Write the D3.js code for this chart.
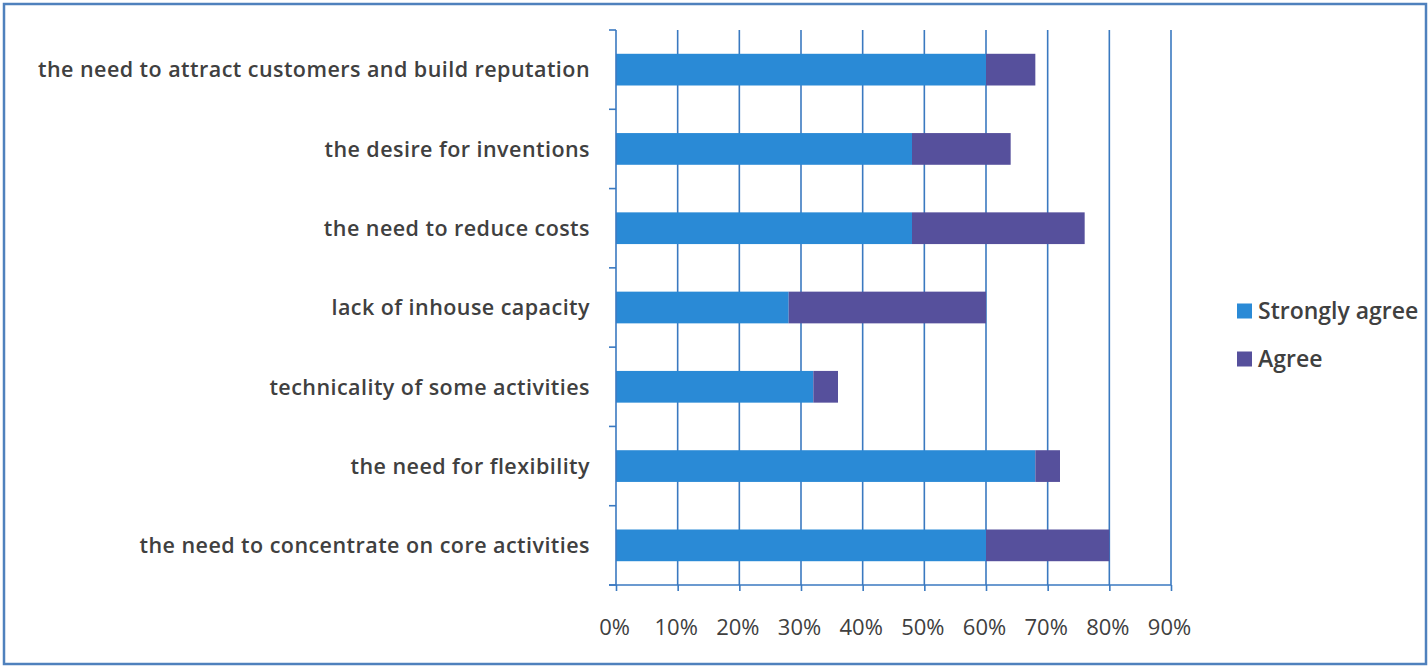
<!DOCTYPE html>
<html>
<head>
<meta charset="utf-8">
<script src="https://cdn.jsdelivr.net/npm/d3@7"></script>
<style>
  html, body { margin: 0; padding: 0; background: #fff; }
  svg { display: block; }
  text { font-family: "Open Sans", "Lato", sans-serif; fill: #404040; }
</style>
</head>
<body>
<svg id="chart" width="1428" height="670"></svg>
<script>
// Reasons for outsourcing, share of respondents
const categories = [
  "the need to attract customers and build reputation",
  "the desire for inventions",
  "the need to reduce costs",
  "lack of inhouse capacity",
  "technicality of some activities",
  "the need for flexibility",
  "the need to concentrate on core activities"
];
const seriesNames = ["Strongly agree", "Agree"];
const stronglyAgree = [0.60, 0.48, 0.48, 0.28, 0.32, 0.68, 0.60];
const agree =         [0.08, 0.16, 0.28, 0.32, 0.04, 0.04, 0.20];
const tickValues = [0, 0.1, 0.2, 0.3, 0.4, 0.5, 0.6, 0.7, 0.8, 0.9];

const colors = ["#2a8ad6", "#56509c"];
const gridColor = "#3a79c0";

const svg = d3.select("#chart");

// outer frame
svg.append("rect")
  .attr("x", 4).attr("y", 4).attr("width", 1422).attr("height", 660)
  .attr("fill", "none").attr("stroke", "#4f81bd").attr("stroke-width", 2.5);

const plotLeft = 616, plotRight = 1171, plotTop = 30, plotBottom = 585;

const x = d3.scaleLinear().domain([0, 0.9]).range([plotLeft, plotRight]);
const y = d3.scaleBand().domain(categories).range([plotTop, plotBottom]).paddingInner(0.6).paddingOuter(0.3);

// vertical gridlines
svg.append("g").selectAll("line")
  .data(tickValues.slice(1))
  .join("line")
  .attr("x1", d => x(d)).attr("x2", d => x(d))
  .attr("y1", plotTop).attr("y2", plotBottom)
  .attr("stroke", gridColor).attr("stroke-width", 1.6);

// stacked bars
const rows = categories.map((c, i) => ({ cat: c, vals: [stronglyAgree[i], agree[i]] }));
const stack = d3.stack().keys([0, 1]).value((d, k) => d.vals[k]);
const stacked = stack(rows);

svg.append("g").selectAll("g")
  .data(stacked)
  .join("g")
  .attr("fill", (d, i) => colors[i])
  .selectAll("rect")
  .data(d => d)
  .join("rect")
  .attr("x", d => x(d[0]))
  .attr("width", d => x(d[1]) - x(d[0]))
  .attr("y", d => y(d.data.cat))
  .attr("height", y.bandwidth());

// x axis
const xAxis = d3.axisBottom(x)
  .tickValues(tickValues)
  .tickFormat(d3.format(".0%"))
  .tickSize(6)
  .tickPadding(28);
const gx = svg.append("g").attr("transform", `translate(0,${plotBottom})`).call(xAxis);
gx.select(".domain").attr("stroke", gridColor).attr("stroke-width", 1.6).attr("d", `M${plotLeft - 7},0H${plotRight}`);
gx.selectAll(".tick line").attr("stroke", gridColor).attr("stroke-width", 1.6);
gx.selectAll(".tick text").attr("font-size", 22).attr("fill", "#404040")
  .attr("dx", -2)
  .style("font-family", "'Open Sans', sans-serif");

// y axis: line with ticks at category boundaries
const step = y.step();
const boundaries = d3.range(categories.length + 1).map(i => plotTop + i * step);
svg.append("line")
  .attr("x1", plotLeft).attr("x2", plotLeft).attr("y1", plotTop).attr("y2", plotBottom)
  .attr("stroke", gridColor).attr("stroke-width", 1.6);
svg.append("g").selectAll("line")
  .data(boundaries)
  .join("line")
  .attr("x1", plotLeft - 7).attr("x2", plotLeft)
  .attr("y1", d => d).attr("y2", d => d)
  .attr("stroke", gridColor).attr("stroke-width", 1.6);

// category labels
svg.append("g").selectAll("text")
  .data(categories)
  .join("text")
  .attr("x", plotLeft - 26)
  .attr("y", d => y(d) + y.bandwidth() / 2)
  .attr("dy", "0.36em")
  .attr("text-anchor", "end")
  .attr("font-size", 21.5)
  .attr("font-weight", 600)
  .attr("letter-spacing", 0.45)
  .text(d => d);

// legend
const legend = svg.append("g").attr("transform", "translate(1237,311)");
seriesNames.forEach((name, i) => {
  const g = legend.append("g").attr("transform", `translate(0,${i * 48})`);
  g.append("rect").attr("x", 0).attr("y", -7.5).attr("width", 15).attr("height", 15).attr("fill", colors[i]);
  g.append("text").attr("x", 21).attr("y", 0).attr("dy", "0.36em")
    .attr("font-size", 23).attr("font-weight", 600).text(name);
});
</script>
</body>
</html>
